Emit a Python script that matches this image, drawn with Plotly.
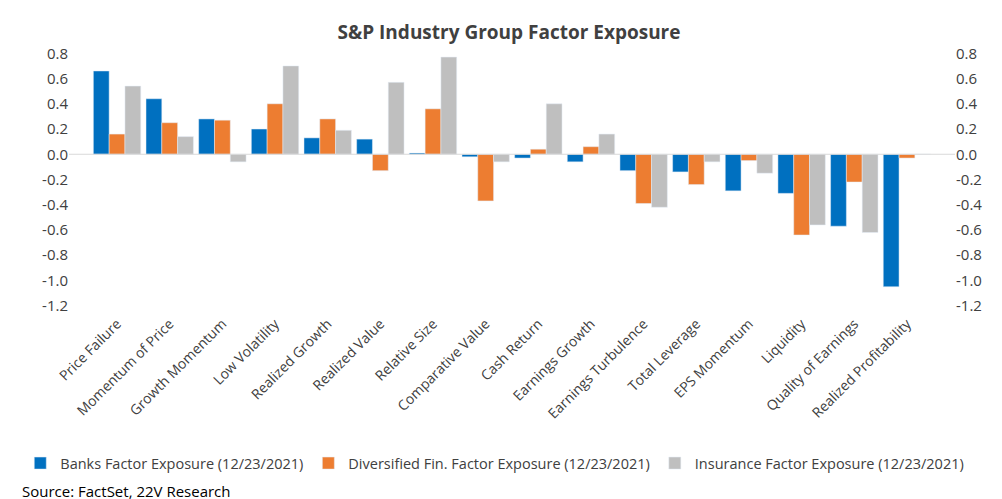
import plotly.graph_objects as go

categories = ["Price Failure", "Momentum of Price", "Growth Momentum", "Low Volatility",
              "Realized Growth", "Realized Value", "Relative Size", "Comparative Value",
              "Cash Return", "Earnings Growth", "Earnings Turbulence", "Total Leverage",
              "EPS Momentum", "Liquidity", "Quality of Earnings", "Realized Profitability"]
banks = [0.66, 0.44, 0.28, 0.20, 0.13, 0.12, 0.01, -0.02, -0.03, -0.06, -0.13, -0.14,
         -0.29, -0.31, -0.57, -1.05]
diversified = [0.16, 0.25, 0.27, 0.40, 0.28, -0.13, 0.36, -0.37, 0.04, 0.06, -0.39, -0.24,
               -0.05, -0.64, -0.22, -0.03]
insurance = [0.54, 0.14, -0.06, 0.70, 0.19, 0.57, 0.77, -0.06, 0.40, 0.16, -0.42, -0.06,
             -0.15, -0.56, -0.62, 0.0]
tick_vals = [0.8, 0.6, 0.4, 0.2, 0.0, -0.2, -0.4, -0.6, -0.8, -1.0, -1.2]
tick_text = ["%.1f" % v for v in tick_vals]

fig = go.Figure()
fig.add_bar(x=categories, y=banks, name="Banks Factor Exposure (12/23/2021)", marker_color="#0070C0")
fig.add_bar(x=categories, y=diversified, name="Diversified Fin. Factor Exposure (12/23/2021)", marker_color="#ED7D31")
fig.add_bar(x=categories, y=insurance, name="Insurance Factor Exposure (12/23/2021)", marker_color="#BFBFBF")
# invisible trace for the mirrored right axis
fig.add_scatter(x=categories, y=banks, yaxis="y2", mode="markers", marker_opacity=0,
                showlegend=False, hoverinfo="skip")

axis_common = dict(range=[-1.25, 0.85], tickvals=tick_vals, ticktext=tick_text,
                   showgrid=False, zeroline=False, tickfont=dict(size=15, color="#404040"))
fig.update_layout(
    width=1002, height=499,
    font=dict(family="Open Sans, Calibri, sans-serif", color="#404040"),
    title=dict(text="<b>S&P Industry Group Factor Exposure</b>", x=0.5, y=0.965,
               font=dict(size=19, color="#404040")),
    plot_bgcolor="white", paper_bgcolor="white",
    barmode="group", bargap=0.1, bargroupgap=0,
    margin=dict(l=52, r=55, t=39, b=195),
    xaxis=dict(tickangle=-45, tickfont=dict(size=14, color="#404040"), showline=False),
    yaxis=axis_common,
    yaxis2=dict(overlaying="y", side="right", **axis_common),
    legend=dict(orientation="h", x=-0.055, y=-0.51, xanchor="left", yanchor="top",
                font=dict(size=14.5, color="#404040"), traceorder="normal",
                itemwidth=30, tracegroupgap=0),
    shapes=[dict(type="line", xref="paper", yref="y", x0=0, x1=1, y0=0, y1=0,
                 line=dict(color="#D9D9D9", width=1))],
    annotations=[dict(text="Source: FactSet, 22V Research", xref="paper", yref="paper",
                      x=-0.055, y=-0.63, xanchor="left", yanchor="top", showarrow=False,
                      font=dict(size=15, color="black"))],
)
fig.write_html("out.html")
